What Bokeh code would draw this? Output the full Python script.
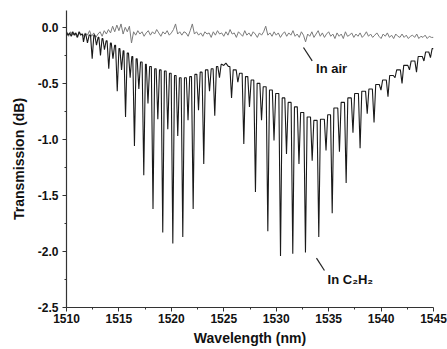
import numpy as np
from bokeh.plotting import figure
from bokeh.models import Range1d, FixedTicker, PrintfTickFormatter, Label
from bokeh.embed import file_html
from bokeh.resources import INLINE

# ---------------- data ----------------
# Transmission through the fibre in air: noisy trace near 0 dB, sampled every 0.2 nm
air_wl_start, air_wl_step = 1510.0, 0.2
air_db = [
    -0.05, -0.08, -0.04, -0.07, -0.05,  -0.09, -0.04, -0.06, -0.08, -0.05,
    -0.07, -0.03, -0.08, -0.05, -0.09,  -0.06, -0.04, -0.08, -0.03, -0.06,
    -0.02, -0.05, 0.01, -0.04, 0.02,    -0.03, 0.03, -0.06, 0.00, -0.04,
    0.01, -0.14, -0.04, -0.07, -0.03,   -0.06, -0.04, -0.08, -0.05, -0.03,
    -0.07, -0.04, -0.06, -0.02, -0.05,  -0.08, -0.04, -0.06, -0.03, -0.07,
    -0.05, -0.02, 0.03, -0.06, -0.04,   -0.07, -0.04, -0.05, -0.08, -0.03,
    0.03, -0.06, -0.04, -0.07, -0.05,   -0.08, -0.04, -0.06, -0.05, -0.09,
    -0.04, -0.07, -0.03, -0.06, -0.05,  -0.08, -0.04, -0.07, -0.02, -0.06,
    -0.05, -0.09, -0.04, -0.06, -0.08,  -0.03, -0.07, -0.05, -0.08, -0.04,
    -0.06, -0.09, -0.05, -0.07, -0.04,  0.01, -0.07, -0.05, -0.08, -0.04,
    -0.07, -0.05, -0.09, -0.06, -0.04,  -0.08, -0.05, -0.07, -0.03, -0.08,
    -0.06, -0.09, -0.04, -0.07, -0.13,  -0.06, -0.08, -0.04, -0.09, -0.06,
    -0.03, -0.08, -0.05, -0.09, -0.06,  -0.04, -0.08, -0.06, -0.10, -0.05,
    -0.08, -0.06, -0.10, -0.04, -0.08,  -0.07, -0.05, -0.09, -0.06, -0.08,
    -0.05, -0.09, -0.07, -0.04, -0.08,  -0.06, -0.09, -0.07, -0.05, -0.08,
    -0.10, -0.06, -0.08, -0.05, -0.09,  -0.07, -0.10, -0.06, -0.08, -0.09,
    -0.06, -0.09, -0.07, -0.10, -0.08,  -0.07, -0.09, -0.06, -0.10, -0.08,
    -0.09, -0.07, -0.10, -0.08, -0.09,  -0.09,
]
air_wl = [round(air_wl_start + i * air_wl_step, 2) for i in range(len(air_db))]

# C2H2 trace: upper envelope points (between absorption lines)
c2h2_top_wl = [
    1510.0, 1510.15, 1510.3, 1510.45, 1510.6, 1510.75, 1510.9, 1511.05, 1511.2, 1511.35, 1511.5,
    1511.8, 1512.2, 1512.65, 1513.05, 1513.43, 1513.83, 1514.23, 1514.64, 1515.05, 1515.44,
    1515.85, 1516.28, 1516.69, 1517.13, 1517.57, 1518.01, 1518.48, 1518.94, 1519.42, 1519.9,
    1520.37, 1520.85, 1521.34, 1521.83, 1522.33, 1522.84, 1523.36, 1523.89, 1524.36, 1524.8,
    1525.0, 1525.2, 1525.45, 1526.04, 1526.62, 1527.18, 1527.73, 1528.31, 1528.9, 1529.5,
    1530.1, 1530.7, 1531.28, 1531.88, 1532.48, 1533.11, 1533.75, 1534.4, 1535.05, 1535.68,
    1536.35, 1537.0, 1537.66, 1538.34, 1539.0, 1539.66, 1540.33, 1541.0, 1541.66, 1542.35,
    1543.05, 1543.73, 1544.4, 1545.0,
]
c2h2_top_db = [
    -0.04, -0.07, -0.05, -0.08, -0.04, -0.07, -0.05, -0.09, -0.04, -0.07, -0.06,
    -0.06, -0.07, -0.07, -0.09, -0.10, -0.12, -0.14, -0.16, -0.19, -0.21,
    -0.23, -0.26, -0.28, -0.31, -0.33, -0.35, -0.37, -0.38, -0.39, -0.41,
    -0.43, -0.45, -0.45, -0.44, -0.42, -0.40, -0.38, -0.37, -0.35, -0.33,
    -0.34, -0.32, -0.35, -0.38, -0.41, -0.44, -0.47, -0.50, -0.53, -0.56,
    -0.59, -0.63, -0.67, -0.71, -0.76, -0.80, -0.83, -0.82, -0.78, -0.72,
    -0.67, -0.63, -0.59, -0.57, -0.55, -0.51, -0.47, -0.43, -0.38, -0.34,
    -0.30, -0.26, -0.22, -0.19,
]
# C2H2 absorption lines: centre wavelength and bottom of each dip
c2h2_dip_wl = [
    1511.62, 1512.0, 1512.45, 1512.86, 1513.24, 1513.62, 1514.03, 1514.43, 1514.84, 1515.25,
    1515.63, 1516.07, 1516.48, 1516.9, 1517.37, 1517.77, 1518.25, 1518.71, 1519.18, 1519.66,
    1520.14, 1520.61, 1521.09, 1521.59, 1522.08, 1522.59, 1523.09, 1523.64, 1524.14, 1524.59,
    1525.74, 1526.34, 1526.91, 1527.45, 1528.02, 1528.6, 1529.2, 1529.79, 1530.41, 1530.98,
    1531.58, 1532.17, 1532.79, 1533.43, 1534.06, 1534.75, 1535.34, 1536.03, 1536.67, 1537.32,
    1538.0, 1538.68, 1539.33, 1539.99, 1540.66, 1541.33, 1542.0, 1542.71, 1543.38, 1544.09,
    1544.71,
]
c2h2_dip_db = [
    -0.13, -0.14, -0.28, -0.16, -0.25, -0.20, -0.37, -0.28, -0.57, -0.38,
    -0.80, -0.45, -1.06, -0.55, -1.32, -0.68, -1.62, -0.82, -1.83, -0.91,
    -1.93, -0.97, -1.87, -0.83, -1.62, -0.74, -1.22, -0.57, -0.79, -0.45,
    -0.63, -0.49, -1.04, -0.71, -1.47, -0.83, -1.82, -1.01, -2.04, -1.13,
    -2.02, -1.22, -2.01, -1.19, -1.87, -1.10, -1.66, -1.11, -1.39, -0.94,
    -1.08, -0.77, -0.85, -0.56, -0.62, -0.45, -0.50, -0.38, -0.40, -0.30,
    -0.27,
]

x_ticks = [1510, 1515, 1520, 1525, 1530, 1535, 1540, 1545]
y_ticks = [-2.5, -2.0, -1.5, -1.0, -0.5, 0.0]

# ---------------- build the drawn C2H2 trace ----------------
LINE_HALF_WIDTH = 0.16  # nm, drawing width of each narrow absorption dip
tw = np.array(c2h2_top_wl)
td = np.array(c2h2_top_db)
pts = list(zip(c2h2_top_wl, c2h2_top_db))
for w, d in zip(c2h2_dip_wl, c2h2_dip_db):
    i_prev = np.where(tw < w)[0][-1]
    i_next = np.where(tw > w)[0][0]
    hw_l = min(LINE_HALF_WIDTH, 0.8 * (w - tw[i_prev]))
    hw_r = min(LINE_HALF_WIDTH, 0.8 * (tw[i_next] - w))
    pts.append((w - hw_l, td[i_prev]))
    pts.append((w, d))
    pts.append((w + hw_r, td[i_next]))
pts.sort(key=lambda t: t[0])
trace_wl = [t[0] for t in pts]
trace_db = [t[1] for t in pts]

# ---------------- figure ----------------
FONT = "Liberation Sans"
p = figure(width=447, height=349, output_backend="svg", toolbar_location=None,
           x_range=Range1d(1510, 1545), y_range=Range1d(-2.5, 0.15),
           min_border_left=66, min_border_right=14, min_border_top=10, min_border_bottom=42)
p.outline_line_color = None
p.grid.visible = False
p.background_fill_color = "white"
p.border_fill_color = "white"

p.line(air_wl, air_db, line_color="#7a7a7a", line_width=1.0)
p.line(trace_wl, trace_db, line_color="#1a1a1a", line_width=1.1)

# pointers and labels
p.segment(x0=[1532.6], y0=[-0.18], x1=[1533.43], y1=[-0.30], line_color="#222222", line_width=1.2)
p.segment(x0=[1533.84], y0=[-2.06], x1=[1534.6], y1=[-2.17], line_color="#222222", line_width=1.2)
p.add_layout(Label(x=1533.8, y=-0.37, text="In air", text_font=FONT, text_font_style="bold",
                   text_font_size="13px", text_baseline="middle", text_color="#111111"))
p.add_layout(Label(x=1534.9, y=-2.25, text="In C\u2082H\u2082", text_font=FONT, text_font_style="bold",
                   text_font_size="13px", text_baseline="middle", text_color="#111111"))

xa = p.xaxis[0]
xa.ticker = FixedTicker(ticks=x_ticks, minor_ticks=[t + 2.5 for t in x_ticks[:-1]])
ya = p.yaxis[0]
ya.ticker = FixedTicker(ticks=y_ticks, minor_ticks=[t - 0.25 for t in y_ticks[1:]])
ya.formatter = PrintfTickFormatter(format="%.1f")
xa.axis_label = "Wavelength (nm)"
ya.axis_label = "Transmission (dB)"
for ax in (xa, ya):
    ax.axis_line_color = "#333333"
    ax.axis_line_width = 1.2
    ax.major_tick_line_color = "#333333"
    ax.minor_tick_line_color = "#333333"
    ax.major_tick_out = 4
    ax.major_tick_in = 0
    ax.minor_tick_out = 2
    ax.minor_tick_in = 0
    ax.major_label_text_font = FONT
    ax.major_label_text_font_style = "bold"
    ax.major_label_text_font_size = "12px"
    ax.major_label_text_color = "#111111"
    ax.axis_label_text_font = FONT
    ax.axis_label_text_font_style = "bold"
    ax.axis_label_text_font_size = "14px"
    ax.axis_label_text_color = "#111111"
xa.major_label_standoff = 2
xa.axis_label_standoff = 4
ya.major_label_standoff = 4
ya.axis_label_standoff = 8

open("out.html", "w").write(file_html(p, INLINE))
